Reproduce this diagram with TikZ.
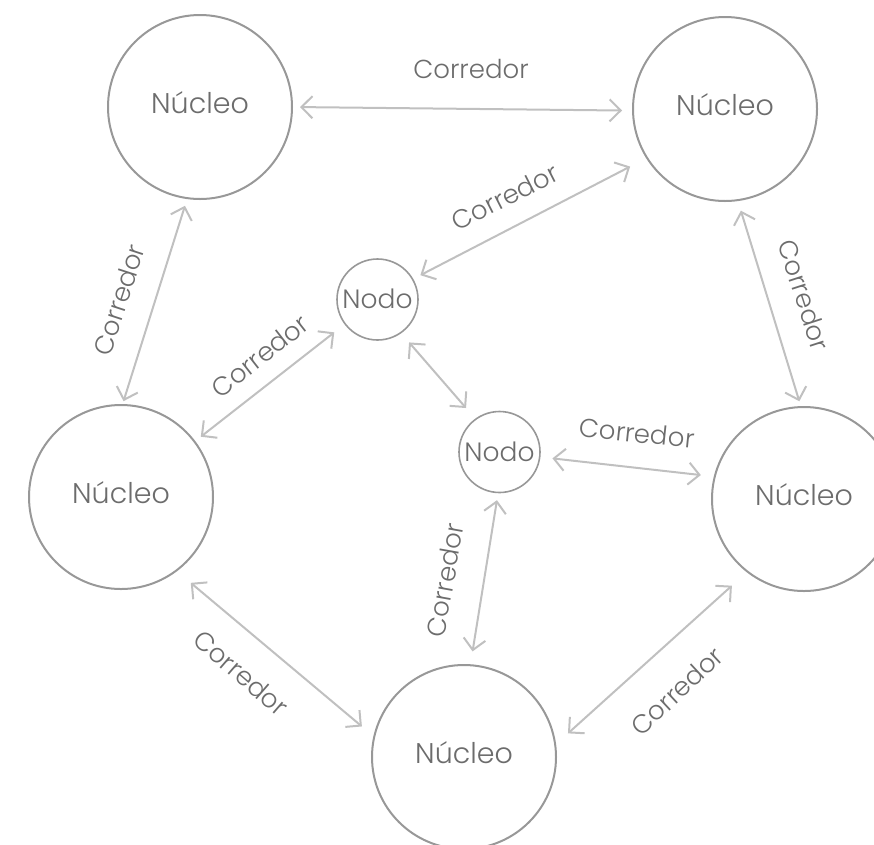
\documentclass[tikz,border=0pt]{standalone}
\usepackage{fontspec}
\setmainfont{Poppins}[UprightFont={* Light}]
\usetikzlibrary{arrows.meta}
\definecolor{txtgray}{RGB}{108,108,108}
\definecolor{circgray}{RGB}{152,152,152}
\definecolor{arrgray}{RGB}{192,192,192}
\begin{document}
\begin{tikzpicture}[x=1pt,y=-1pt,
  nucleo/.style={circle, draw=circgray, line width=2pt, minimum size=184pt, inner sep=0pt,
    font=\fontsize{28.5}{32}\selectfont, text=txtgray, text height=13pt, text depth=0pt},
  nodo/.style={circle, draw=circgray, line width=1.6pt, minimum size=81pt, inner sep=0pt,
    font=\fontsize{26.5}{30}\selectfont, text=txtgray, text height=18pt, text depth=0pt},
  conn/.style={draw=arrgray, line width=2pt,
    {Straight Barb[length=11pt,width=22pt]}-{Straight Barb[length=11pt,width=22pt]}},
  lbl/.style={font=\fontsize{26}{30}\selectfont, text=txtgray, inner sep=0pt}
]
\useasboundingbox (0,0) rectangle (874,844);
\clip (0,0) rectangle (874,844);

\node[nucleo] (TL) at (200,107) {Núcleo};
\node[nucleo] (TR) at (725,109) {Núcleo};
\node[nucleo] (L) at (121,497) {Núcleo};
\node[nucleo] (R) at (804,499) {Núcleo};
\node[nucleo] (B) at (464,757) {Núcleo};
\node[nodo] (N1) at (377.5,299.5) {Nodo};
\node[nodo] (N2) at (499.5,452) {Nodo};

\draw[conn, shorten <=7pt, shorten >=10pt] (TL.0) -- (TR.181);
\draw[conn, shorten <=7pt, shorten >=3pt] (TL.262) -- (L.89);
\draw[conn, shorten <=10pt, shorten >=5pt] (TR.278) -- (R.92);
\draw[conn, shorten <=18pt, shorten >=8pt] (TR.212) -- (N1.30);
\draw[conn, shorten <=13pt, shorten >=7pt] (N1.217) -- (L.37);
\draw[conn, shorten <=12pt, shorten >=14pt] (N1.305) -- (N2.126);
\draw[conn, shorten <=12pt, shorten >=13pt] (N2.353) -- (R.166);
\draw[conn, shorten <=7pt, shorten >=13pt] (N2.268) -- (B.86);
\draw[conn, shorten <=18pt, shorten >=15pt] (L.307) -- (B.167);
\draw[conn, shorten <=20pt, shorten >=16pt] (R.232) -- (B.8);

\node[lbl] (c1) at (471,68.5) {Corredor};
\node[lbl, rotate=72] (c2) at (119,300) {Corredor};
\node[lbl, rotate=-72] (c3) at (804,295) {Corredor};
\node[lbl, rotate=27] (c4) at (505,197) {Corredor};
\node[lbl, rotate=38] (c5) at (260,356) {Corredor};
\node[lbl, rotate=-6] (c7) at (637,433) {Corredor};
\node[lbl, rotate=80] (c8) at (445,580) {Corredor};
\node[lbl, rotate=-41] (c9) at (241,673) {Corredor};
\node[lbl, rotate=43] (c10) at (677,691) {Corredor};
\end{tikzpicture}
\end{document}
